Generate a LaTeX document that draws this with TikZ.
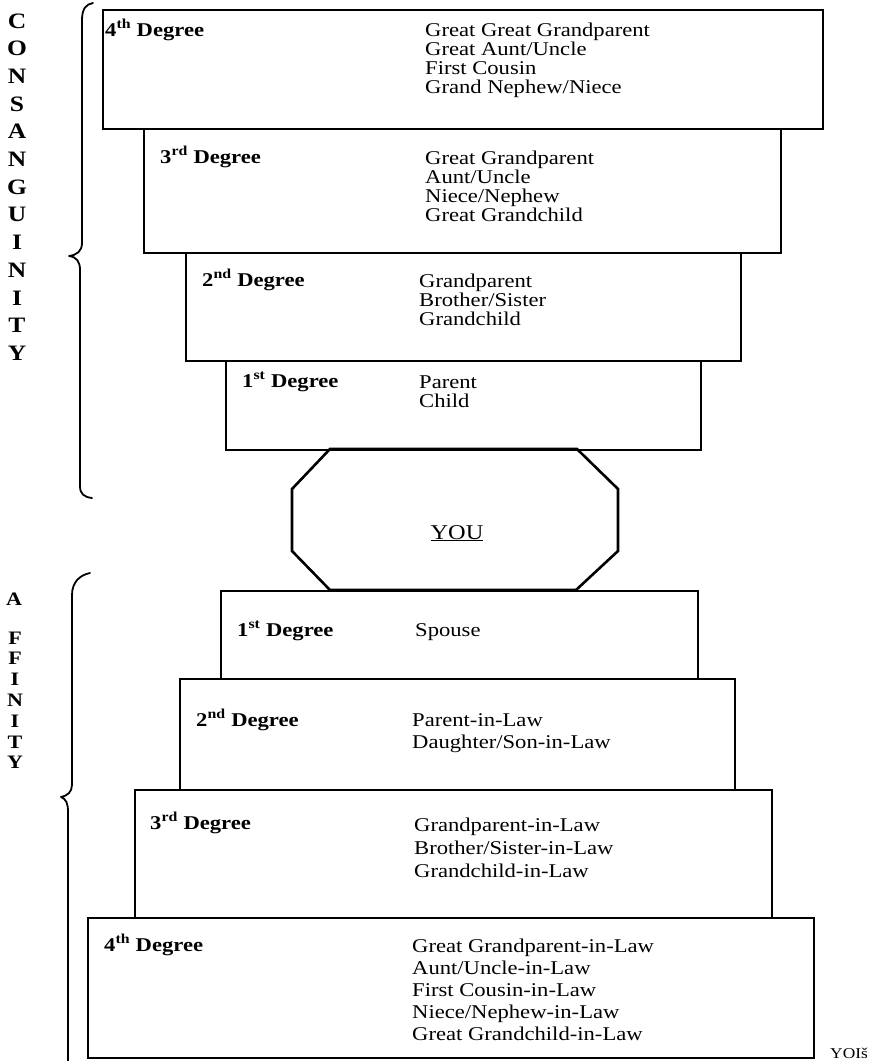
\documentclass[tikz,border=0pt]{standalone}
\usepackage{fontspec}
\setmainfont{Liberation Serif}[FakeStretch=1.16]
\newcommand\linesL[2]{\vtop{\baselineskip=#1pt\lineskiplimit=-100pt\lineskip=0pt\halign{##\hfil\cr#2\crcr}}}
\newcommand\linesC[2]{\vtop{\baselineskip=#1pt\lineskiplimit=-100pt\lineskip=0pt\halign{\hfil##\hfil\cr#2\crcr}}}
\tikzset{
  degbox/.style={draw, line width=1.6pt, rectangle, inner sep=0pt, anchor=north west},
  deg/.style={anchor=base west, inner sep=0pt, font=\fontsize{19.5}{19}\selectfont\bfseries},
  rel/.style={anchor=base west, inner sep=0pt, font=\fontsize{19.5}{19}\selectfont},
  side/.style={anchor=base, inner sep=0pt, font=\fontsize{22}{22}\selectfont\bfseries},
  sideb/.style={anchor=base, inner sep=0pt, font=\fontsize{19}{19}\selectfont\bfseries},
  bracel/.style={line width=1.8pt, line cap=round, line join=round},
  octo/.style={line width=2.6pt, line join=miter}
}
\begin{document}
\begin{tikzpicture}[x=1pt,y=-1pt]
\useasboundingbox (0,0) rectangle (882,1061);
\fill[white] (0,0) rectangle (882,1061);

% Consanguinity boxes
\node[degbox, minimum width=720pt, minimum height=119pt] (c4) at (102,9) {};
\node[degbox, minimum width=637pt, minimum height=124pt] (c3) at (143,128) {};
\node[degbox, minimum width=555pt, minimum height=108pt] (c2) at (185,252) {};
\node[degbox, minimum width=475pt, minimum height=89pt] (c1) at (225,360) {};

\node[deg] (c4l) at (105,36) {4\textsuperscript{th} Degree};
\node[rel] (c4r) at (425,36) {\linesL{19}{Great Great Grandparent\cr Great Aunt/Uncle\cr First Cousin\cr Grand Nephew/Niece}};
\node[deg] (c3l) at (160,163) {3\textsuperscript{rd} Degree};
\node[rel] (c3r) at (425,164) {\linesL{19}{Great Grandparent\cr Aunt/Uncle\cr Niece/Nephew\cr Great Grandchild}};
\node[deg] (c2l) at (202,286) {2\textsuperscript{nd} Degree};
\node[rel] (c2r) at (419,287) {\linesL{19}{Grandparent\cr Brother/Sister\cr Grandchild}};
\node[deg] (c1l) at (242,387) {1\textsuperscript{st} Degree};
\node[rel] (c1r) at (419,388) {\linesL{19}{Parent\cr Child}};

% YOU octagon
\coordinate (o1) at (330,449);
\coordinate (o2) at (577,449);
\coordinate (o3) at (618,489);
\coordinate (o4) at (618,551);
\coordinate (o5) at (576,590);
\coordinate (o6) at (330,590);
\coordinate (o7) at (292,551);
\coordinate (o8) at (292,489);
\draw[octo] (o1) -- (o2) -- (o3) -- (o4) -- (o5) -- (o6) -- (o7) -- (o8) -- cycle;
\node[rel, anchor=base, font=\fontsize{21}{21}\selectfont] (you) at (457,539) {\underline{YOU}};

% Affinity boxes
\node[degbox, minimum width=477pt, minimum height=88pt] (a1) at (220,590) {};
\node[degbox, minimum width=555pt, minimum height=111pt] (a2) at (179,678) {};
\node[degbox, minimum width=637pt, minimum height=128pt] (a3) at (134,789) {};
\node[degbox, minimum width=726pt, minimum height=140pt] (a4) at (87,917) {};

\node[deg] (a1l) at (237,636) {1\textsuperscript{st} Degree};
\node[rel] (a1r) at (415,636) {Spouse};
\node[deg] (a2l) at (196,726) {2\textsuperscript{nd} Degree};
\node[rel] (a2r) at (412,726) {\linesL{22}{Parent-in-Law\cr Daughter/Son-in-Law}};
\node[deg] (a3l) at (150,829) {3\textsuperscript{rd} Degree};
\node[rel] (a3r) at (414,831) {\linesL{23}{Grandparent-in-Law\cr Brother/Sister-in-Law\cr Grandchild-in-Law}};
\node[deg] (a4l) at (104,951) {4\textsuperscript{th} Degree};
\node[rel] (a4r) at (412,952) {\linesL{22}{Great Grandparent-in-Law\cr Aunt/Uncle-in-Law\cr First Cousin-in-Law\cr Niece/Nephew-in-Law\cr Great Grandchild-in-Law}};

% Braces
\draw[bracel] (93,3) .. controls (86,4) and (82,9) .. (82,20) -- (82,243)
  .. controls (82,251) and (77,255) .. (69,256)
  .. controls (77,257) and (80,262) .. (80,270) -- (80,486)
  .. controls (80,494) and (84,497) .. (92,498);
\draw[bracel] (90,573) .. controls (80,575) and (72,582) .. (72,595) -- (72,785)
  .. controls (72,792) and (67,796) .. (61,797)
  .. controls (66,799) and (68,803) .. (68,812) -- (68,1070);

% Side words
\node[side] (cons) at (17,28) {\linesC{27.7}{C\cr O\cr N\cr S\cr A\cr N\cr G\cr U\cr I\cr N\cr I\cr T\cr Y}};
\node[sideb] (affa) at (14,605) {A};
\node[sideb] (aff) at (15,644) {\linesC{20.8}{F\cr F\cr I\cr N\cr I\cr T\cr Y}};

% footer text at the lower edge
\node[anchor=base west, inner sep=0pt, font=\fontsize{15}{15}\selectfont] (foot) at (830,1058) {YOIš};
\end{tikzpicture}
\end{document}
